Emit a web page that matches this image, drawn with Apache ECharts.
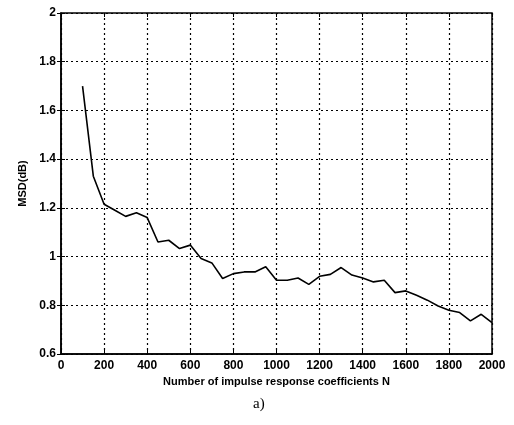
<!DOCTYPE html>
<html>
<head>
<meta charset="utf-8">
<script src="https://cdn.jsdelivr.net/npm/echarts@6/dist/echarts.min.js"></script>
<style>
  html, body { margin: 0; padding: 0; background: #fff; }
  #msd { width: 514px; height: 425px; }
</style>
</head>
<body>
<div id="msd"></div>
<script>
// number of coefficients N
const nValues = [100, 150, 200, 250, 300, 350, 400, 450, 500, 550, 600, 650, 700, 750, 800,
  850, 900, 950, 1000, 1050, 1100, 1150, 1200, 1250, 1300, 1350, 1400, 1450, 1500,
  1550, 1600, 1650, 1700, 1750, 1800, 1850, 1900, 1950, 2000];
// MSD in dB
const msdValues = [1.70, 1.33, 1.215, 1.19, 1.165, 1.18, 1.16, 1.06, 1.067, 1.033, 1.047, 0.992,
  0.974, 0.91, 0.93, 0.937, 0.937, 0.958, 0.903, 0.903, 0.912, 0.886, 0.919, 0.927, 0.955,
  0.924, 0.912, 0.896, 0.903, 0.852, 0.859, 0.841, 0.821, 0.797, 0.78, 0.77, 0.736, 0.763, 0.729];

const FONT = 'Liberation Sans';
let chart = echarts.init(document.getElementById('msd'));

let dotted = { show: true, lineStyle: { color: '#000', type: [2, 3], width: 1.2 } };

let option = {
  backgroundColor: '#fff',
  animation: false,
  grid: { left: 61, right: 22, top: 13, bottom: 71, show: true, borderColor: '#000', borderWidth: 1.5 },
  xAxis: [{
    type: 'value', min: 0, max: 2000, interval: 200,
    name: 'Number of impulse response coefficients N',
    nameLocation: 'middle', nameGap: 22,
    nameTextStyle: { fontFamily: FONT, fontSize: 11, fontWeight: 'bold', color: '#000' },
    axisLine: { show: true, lineStyle: { color: '#000', width: 1.5 } },
    axisTick: { inside: true, length: 4, lineStyle: { color: '#000' } },
    axisLabel: { fontFamily: FONT, fontSize: 12, fontWeight: 'bold', color: '#000', margin: 6,
      formatter: v => String(v) },
    splitLine: dotted
  }, {
    type: 'value', min: 0, max: 2000, interval: 200, position: 'top',
    axisLine: { show: false }, axisTick: { inside: true, length: 4, lineStyle: { color: '#000' } },
    axisLabel: { show: false }, splitLine: { show: false }
  }],
  yAxis: [{
    type: 'value', min: 0.6, max: 2, interval: 0.2,
    name: 'MSD(dB)', nameLocation: 'middle', nameGap: 25,
    nameTextStyle: { fontFamily: FONT, fontSize: 11, fontWeight: 'bold', color: '#000' },
    axisLine: { show: true, lineStyle: { color: '#000', width: 1.5 } },
    axisTick: { inside: true, length: 4, lineStyle: { color: '#000' } },
    axisLabel: { fontFamily: FONT, fontSize: 12, fontWeight: 'bold', color: '#000', margin: 5 },
    splitLine: dotted
  }, {
    type: 'value', min: 0.6, max: 2, interval: 0.2, position: 'right',
    axisLine: { show: false }, axisTick: { inside: true, length: 4, lineStyle: { color: '#000' } },
    axisLabel: { show: false }, splitLine: { show: false }
  }],
  graphic: [{
    type: 'text', left: 253, top: 397,
    style: { text: 'a)', fontFamily: 'Liberation Serif', fontSize: 15, fill: '#000' }
  }],
  series: [{
    type: 'line',
    data: nValues.map((n, i) => [n, msdValues[i]]),
    showSymbol: false,
    lineStyle: { color: '#000', width: 1.6 }
  }]
};

chart.setOption(option);
window.addEventListener('resize', () => { chart.resize(); });
</script>
</body>
</html>
